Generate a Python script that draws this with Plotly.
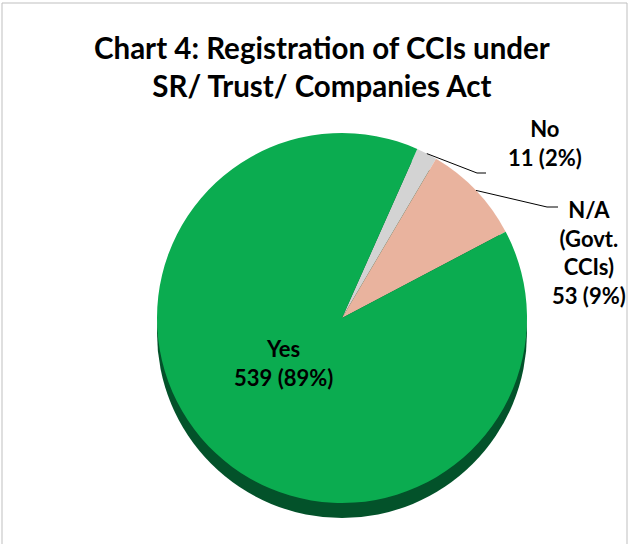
import math
import plotly.graph_objects as go

# ---- data ----
categories = ["No", "N/A (Govt. CCIs)", "Yes"]
label_lines = [["No"], ["N/A", "(Govt.", "CCIs)"], ["Yes"]]
values = [11, 53, 539]
colors = ["#D3D3D3", "#E9B39E", "#0BAC50"]
title_lines = ["Chart 4: Registration of CCIs under", "SR/ Trust/ Companies Act"]

W, H = 630, 544
FONT = "Lato"

# pie geometry (pixels)
cx, cy, r = 342, 318, 185
depth = 15
start_angle = 24  # degrees clockwise from 12 o'clock

def px(x):
    return x / W

def py(y):
    return 1 - y / H

fig = go.Figure()

# 3D depth disc
fig.add_trace(go.Pie(
    values=[1], marker=dict(colors=["#03522A"], line=dict(width=0)),
    textinfo="none", hoverinfo="skip", sort=False, showlegend=False,
    domain=dict(x=[px(cx - r), px(cx + r)], y=[py(cy + r + depth), py(cy - r + depth)]),
))

fig.add_trace(go.Pie(
    labels=categories, values=values, sort=False, direction="clockwise",
    rotation=start_angle,
    marker=dict(colors=colors, line=dict(width=0)),
    textinfo="none", hoverinfo="label+value+percent", showlegend=False,
    domain=dict(x=[px(cx - r), px(cx + r)], y=[py(cy + r), py(cy - r)]),
))

total = sum(values)
pcts = [round(100 * v / total) for v in values]

# label placement (pixels) and leader line elbows
label_pos = [(545, 143), (589, 252), (283, 363)]
elbows = [[(477, 173), (486, 173)], [(547, 207), (558, 207)], None]

annotations = []
shapes = []
cum = 0
for i, v in enumerate(values):
    mid = start_angle + (cum + v / 2) / total * 360
    cum += v
    text = "<br>".join(f"<b>{t}</b>" for t in label_lines[i] + [f"{v} ({pcts[i]}%)"])
    lx, ly = label_pos[i]
    annotations.append(dict(
        x=px(lx), y=py(ly), xref="paper", yref="paper", text=text,
        showarrow=False, font=dict(family=FONT, size=22, color="#000000"),
        xanchor="center", yanchor="middle", align="center",
    ))
    if elbows[i]:
        a = math.radians(mid)
        sx, sy = cx + r * math.sin(a), cy - r * math.cos(a)
        pts = [(sx, sy)] + elbows[i]
        for (x0, y0), (x1, y1) in zip(pts[:-1], pts[1:]):
            shapes.append(dict(type="line", xref="paper", yref="paper",
                               x0=px(x0), y0=py(y0), x1=px(x1), y1=py(y1),
                               line=dict(color="#000000", width=1)))

# outer frame
shapes.append(dict(type="rect", xref="paper", yref="paper",
                   x0=px(2), x1=px(627), y0=-0.2, y1=py(3),
                   line=dict(color="#BFBFBF", width=1), fillcolor="rgba(0,0,0,0)"))

annotations.append(dict(
    x=px(322), y=py(66), xref="paper", yref="paper",
    text="<br>".join(f"<b>{t}</b>" for t in title_lines),
    showarrow=False, font=dict(family=FONT, size=29.5, color="#000000"),
    xanchor="center", yanchor="middle", align="center",
))

fig.update_layout(
    width=W, height=H, margin=dict(l=0, r=0, t=0, b=0),
    paper_bgcolor="#FFFFFF", plot_bgcolor="#FFFFFF",
    annotations=annotations, shapes=shapes, showlegend=False,
)

fig.write_html("out.html", config={"displayModeBar": False},
               post_script="document.body.style.margin='0';document.body.style.overflow='hidden';")
